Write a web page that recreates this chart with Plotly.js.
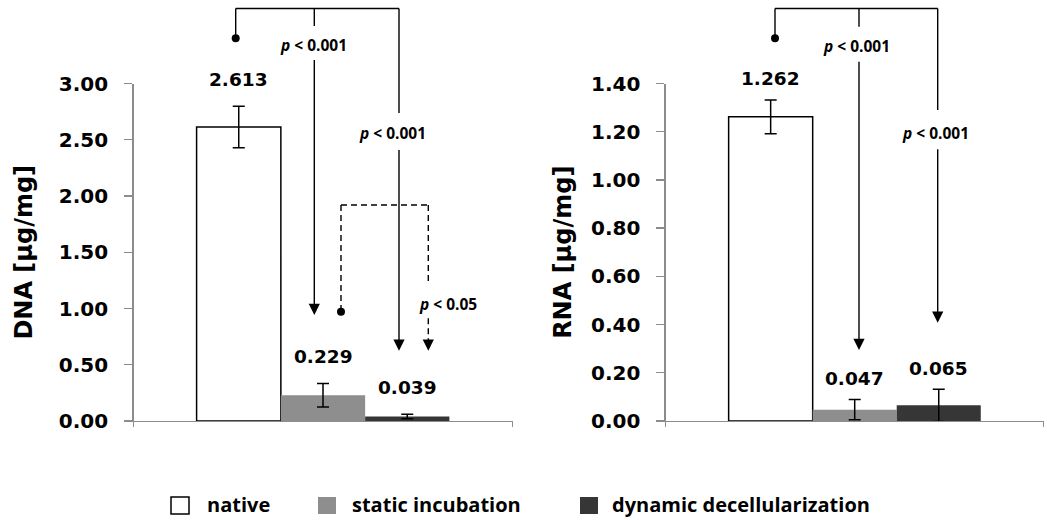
<!DOCTYPE html>
<html>
<head>
<meta charset="utf-8">
<script src="https://cdn.plot.ly/plotly-3.0.1.min.js"></script>
<style>html,body{margin:0;padding:0;background:#fff;}#chart{width:1047px;height:520px;}</style>
</head>
<body>
<div id="chart"></div>
<script>
// ---- data ----
const groups = ['native', 'static incubation', 'dynamic decellularization'];
const dnaValues = [2.613, 0.229, 0.039];
const dnaErrors = [0.185, 0.105, 0.02];
const rnaValues = [1.262, 0.047, 0.065];
const rnaErrors = [0.07, 0.042, 0.067];
const dnaTickValues = [0, 0.5, 1.0, 1.5, 2.0, 2.5, 3.0];
const rnaTickValues = [0, 0.2, 0.4, 0.6, 0.8, 1.0, 1.2, 1.4];
const pLabelsDNA = ['<i>p</i> &lt; 0.001', '<i>p</i> &lt; 0.001', '<i>p</i> &lt; 0.05'];
const pLabelsRNA = ['<i>p</i> &lt; 0.001', '<i>p</i> &lt; 0.001'];

// ---- style ----
const W = 1047, H = 520;
const fillColors = ['#ffffff', '#8e8e8e', '#363636'];
const lineColors = ['#000000', '#8e8e8e', '#363636'];
const lineWidths = [1.5, 0, 0];
const axisGray = '#8c8c8c';
const numFont = 'DejaVu Sans, sans-serif';
const txtFont = 'Open Sans, sans-serif';
const bargap = 0.333;

const X = x => x / W;
const Y = y => 1 - y / H;

const traces = [];
groups.forEach((g, i) => {
  traces.push({
    type: 'bar', name: g, x: ['c'], y: [dnaValues[i]],
    xaxis: 'x', yaxis: 'y', offsetgroup: String(i), showlegend: false,
    marker: {color: fillColors[i], line: {color: lineColors[i], width: lineWidths[i]}},
    error_y: {type: 'data', array: [dnaErrors[i]], visible: true, color: '#000', thickness: 1.5, width: 6},
    hoverinfo: 'none'
  });
  traces.push({
    type: 'bar', name: g, x: ['c'], y: [rnaValues[i]],
    xaxis: 'x2', yaxis: 'y2', offsetgroup: String(i), showlegend: false,
    marker: {color: fillColors[i], line: {color: lineColors[i], width: lineWidths[i]}},
    error_y: {type: 'data', array: [rnaErrors[i]], visible: true, color: '#000', thickness: 1.5, width: 6},
    hoverinfo: 'none'
  });
});

const annotations = [];
const shapes = [];

// value labels above bars
const barOffset = i => (i - 1) * (1 - bargap) / 3;
groups.forEach((g, i) => {
  annotations.push({xref: 'x', yref: 'y', x: barOffset(i), y: dnaValues[i] + dnaErrors[i],
    yshift: 27, text: dnaValues[i].toFixed(3), showarrow: false, yanchor: 'middle',
    font: {family: numFont, size: 18.5, color: '#000', weight: 'bold'}});
  annotations.push({xref: 'x2', yref: 'y2', x: barOffset(i), y: rnaValues[i] + rnaErrors[i],
    yshift: 21, text: rnaValues[i].toFixed(3), showarrow: false, yanchor: 'middle',
    font: {family: numFont, size: 18.5, color: '#000', weight: 'bold'}});
});

// helpers for significance brackets (pixel positions)
function seg(x0, y0, x1, y1, dash) {
  shapes.push({type: 'line', xref: 'paper', yref: 'paper', x0: X(x0), y0: Y(y0), x1: X(x1), y1: Y(y1),
    line: {color: '#000', width: 1.4, dash: dash ? '6px,4px' : 'solid'}});
}
function dot(x, y) {
  shapes.push({type: 'circle', xref: 'paper', yref: 'paper', xsizemode: 'pixel', ysizemode: 'pixel',
    xanchor: X(x), yanchor: Y(y), x0: -4, x1: 4, y0: -4, y1: 4,
    fillcolor: '#000', line: {color: '#000', width: 0}});
}
function head(x, y) {
  annotations.push({xref: 'paper', yref: 'paper', x: X(x), y: Y(y), ax: 0, ay: -12, text: '',
    showarrow: true, arrowhead: 2, arrowsize: 1.6, arrowwidth: 1.4, arrowcolor: '#000'});
}
function ptext(x, y, t) {
  annotations.push({xref: 'paper', yref: 'paper', x: X(x), y: Y(y), text: t, showarrow: false,
    xanchor: 'center', yanchor: 'middle', font: {family: txtFont, size: 15.5, color: '#000', weight: 'bold'}});
}
function arrow(x, yTop, yGap0, yGap1, tip, dash) {
  seg(x, yTop, x, yGap0, dash);
  seg(x, yGap1, x, tip - 6, dash);
  head(x, tip);
}

// DNA panel
seg(235.7, 8.5, 399, 8.5);
seg(235.7, 8.5, 235.7, 38);
dot(235.7, 38.3);
arrow(314.3, 8.5, 26, 60, 315);
ptext(313, 45, pLabelsDNA[0]);
arrow(399, 8.5, 113, 150, 350.7);
ptext(392.5, 133.3, pLabelsDNA[1]);
seg(341, 205, 428.3, 205, true);
seg(341, 205, 341, 311, true);
dot(341, 311.7);
arrow(428.3, 205, 285, 318.3, 350.7, true);
ptext(448.3, 304, pLabelsDNA[2]);

// RNA panel
seg(775, 8.5, 937.7, 8.5);
seg(775, 8.5, 775, 38);
dot(775, 38.3);
arrow(859, 8.5, 26.7, 61.7, 350);
ptext(856.2, 46, pLabelsRNA[0]);
arrow(937.7, 8.5, 110, 149.3, 322.7);
ptext(935.5, 132.7, pLabelsRNA[1]);

// legend (drawn manually)
const legendBoxes = [[171, 189], [318, 336], [580, 598]];
const legendTextX = [205, 350, 610];
groups.forEach((g, i) => {
  shapes.push({type: 'rect', xref: 'paper', yref: 'paper',
    x0: X(legendBoxes[i][0]), x1: X(legendBoxes[i][1]), y0: Y(497), y1: Y(514),
    fillcolor: fillColors[i], line: {color: i === 0 ? '#000' : fillColors[i], width: i === 0 ? 1.5 : 0}});
  annotations.push({xref: 'paper', yref: 'paper', x: X(legendTextX[i]), y: Y(504), text: g,
    showarrow: false, xanchor: 'left', yanchor: 'middle',
    font: {family: txtFont, size: 20, color: '#000', weight: 'bold'}});
});

const yBase = {
  showline: true, linecolor: axisGray, linewidth: 1.3, ticks: 'outside', ticklen: 8,
  tickcolor: axisGray, tickwidth: 1.3, showgrid: false, zeroline: false, tickformat: '.2f',
  ticklabelstandoff: 12,
  tickfont: {family: numFont, size: 20, color: '#000', weight: 'bold'}, automargin: false
};
const xBase = {
  type: 'category', showline: true, linecolor: axisGray, linewidth: 1.3, ticks: 'outside',
  tickson: 'boundaries', ticklen: 5, tickcolor: axisGray, tickwidth: 1.3, showticklabels: false,
  showgrid: false, zeroline: false, range: [-0.5, 0.5], fixedrange: true
};

const layout = {
  width: W, height: H,
  margin: {l: 0, r: 0, t: 0, b: 0},
  paper_bgcolor: '#fff', plot_bgcolor: '#fff',
  barmode: 'group', bargap: bargap, bargroupgap: 0,
  showlegend: false,
  xaxis: Object.assign({}, xBase, {domain: [X(133.5), X(512.5)], anchor: 'y'}),
  xaxis2: Object.assign({}, xBase, {domain: [X(665.7), X(1043.7)], anchor: 'y2'}),
  yaxis: Object.assign({}, yBase, {domain: [Y(421), Y(83.5)], range: [0, 3], tickvals: dnaTickValues, anchor: 'x',
    title: {text: 'DNA [µg/mg]', standoff: 19, font: {family: numFont, size: 24, color: '#000', weight: 'bold'}}}),
  yaxis2: Object.assign({}, yBase, {domain: [Y(421), Y(83.5)], range: [0, 1.4], tickvals: rnaTickValues, anchor: 'x2',
    title: {text: 'RNA [µg/mg]', standoff: 12, font: {family: numFont, size: 24, color: '#000', weight: 'bold'}}}),
  annotations: annotations,
  shapes: shapes
};

Plotly.newPlot('chart', traces, layout, {displayModeBar: false, staticPlot: true});
</script>
</body>
</html>
